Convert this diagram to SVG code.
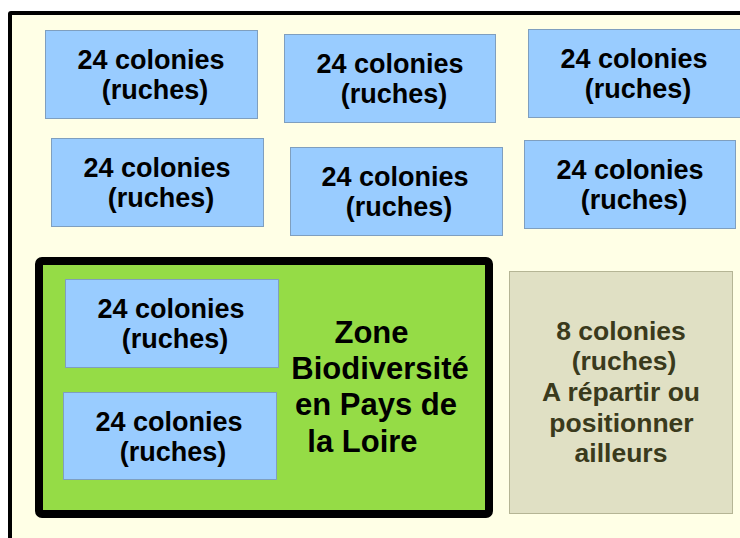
<svg xmlns="http://www.w3.org/2000/svg" width="740" height="538" viewBox="0 0 740 538">
<style>
.box{fill:#99ccff;stroke:#7f9fbf;stroke-width:1}
.t{font-family:"Liberation Sans",Arial,sans-serif;font-weight:bold;font-size:27px;fill:#000;text-anchor:middle}
.z{font-size:31px}
.g{fill:#3a3a1c;font-size:26.5px}
</style>
<rect x="0" y="0" width="740" height="538" fill="#ffffff"/>
<rect x="10" y="13" width="740" height="540" rx="1" fill="#ffffe6" stroke="#000" stroke-width="4"/>
<g id="n1"><rect class="box" x="45.5" y="30.5" width="212" height="88"/><text class="t" x="151" y="69">24 colonies</text><text class="t" x="155" y="99">(ruches)</text></g>
<g id="n2"><rect class="box" x="284.5" y="34.5" width="211" height="88"/><text class="t" x="390" y="73">24 colonies</text><text class="t" x="394" y="103">(ruches)</text></g>
<g id="n3"><rect class="box" x="528.5" y="29.5" width="212" height="88"/><text class="t" x="634" y="68">24 colonies</text><text class="t" x="638" y="98">(ruches)</text></g>
<g id="n4"><rect class="box" x="51.5" y="138.5" width="212" height="88"/><text class="t" x="157" y="177">24 colonies</text><text class="t" x="161" y="207">(ruches)</text></g>
<g id="n5"><rect class="box" x="290.5" y="147.5" width="212" height="88"/><text class="t" x="395" y="186">24 colonies</text><text class="t" x="399" y="216">(ruches)</text></g>
<g id="n6"><rect class="box" x="524.5" y="140.5" width="211" height="88"/><text class="t" x="630" y="179">24 colonies</text><text class="t" x="634" y="209">(ruches)</text></g>
<g id="zone"><rect x="39" y="261" width="450" height="253" rx="3" fill="#95dc46" stroke="#000" stroke-width="8"/>
<text class="t z" x="371.5" y="343">Zone</text><text class="t z" x="380" y="379">Biodiversité</text><text class="t z" x="376" y="415">en Pays de</text><text class="t z" x="362.5" y="452">la Loire</text></g>
<g id="n7"><rect class="box" x="65.5" y="279.5" width="213" height="88"/><text class="t" x="171" y="318">24 colonies</text><text class="t" x="175" y="348">(ruches)</text></g>
<g id="n8"><rect class="box" x="63.5" y="392.5" width="213" height="87"/><text class="t" x="169" y="431">24 colonies</text><text class="t" x="173" y="461">(ruches)</text></g>
<g id="n9"><rect x="509.5" y="271.5" width="223" height="242" fill="#e0e0c4" stroke="#b5b595" stroke-width="1"/>
<text class="t g" x="621" y="340">8 colonies</text><text class="t g" x="624" y="370">(ruches)</text><text class="t g" x="621" y="401">A répartir ou</text><text class="t g" x="621.5" y="431.5">positionner</text><text class="t g" x="621" y="461.5">ailleurs</text></g>
<g id="connectors"></g>
</svg>
